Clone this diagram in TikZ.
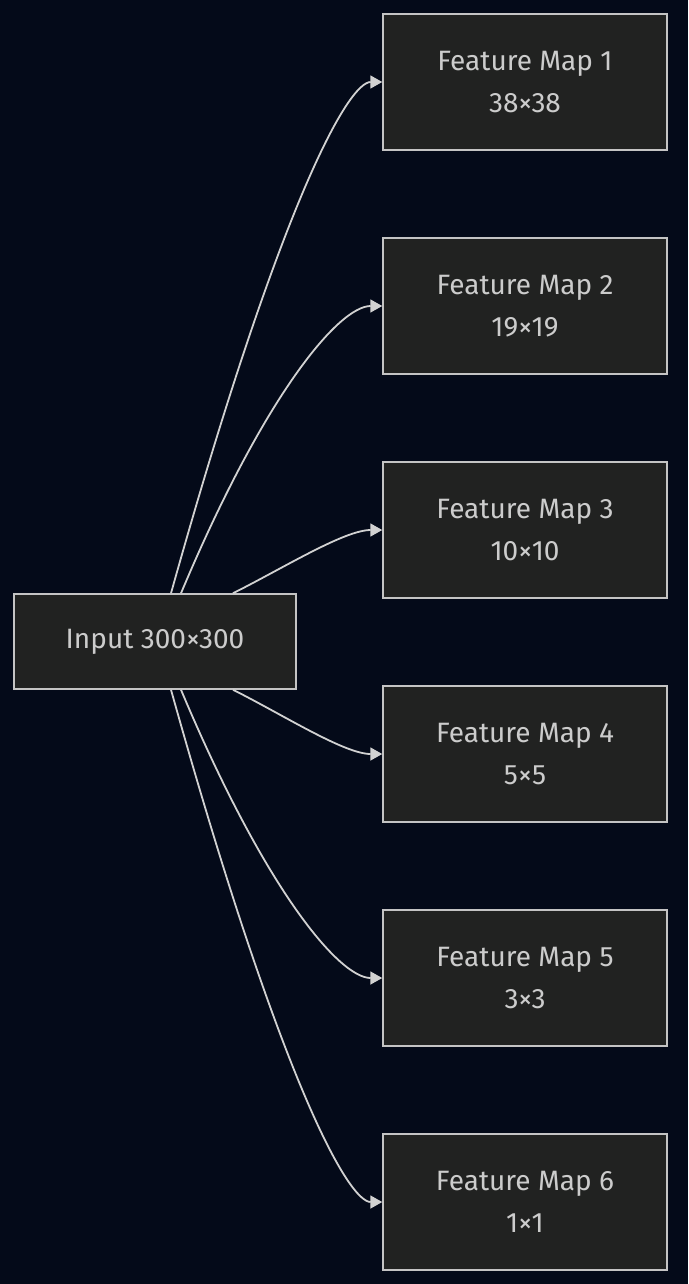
\documentclass[tikz,border=0pt]{standalone}
\usepackage{fontspec}
\setmainfont{Fira Sans}
\usetikzlibrary{arrows.meta}
\definecolor{bgc}{HTML}{040A19}
\definecolor{boxfill}{HTML}{212221}
\definecolor{boxline}{HTML}{C4C4C4}
\definecolor{txt}{HTML}{CCCCCC}
\definecolor{edgec}{HTML}{D2D2D2}
\begin{document}
\begin{tikzpicture}[x=1pt,y=-1pt,
  fmbox/.style={draw=boxline, fill=boxfill, line width=1.5pt, text=txt,
    minimum width=284pt, minimum height=136pt, align=center, inner sep=0pt,
    font=\fontsize{28}{42}\selectfont},
  inbox/.style={fmbox, minimum width=282pt, minimum height=95pt},
  edge/.style={draw=edgec, line width=1.8pt, -{Triangle[length=12pt,width=13pt]}}]
\fill[bgc] (0,0) rectangle (688,1284);
\useasboundingbox (0,0) rectangle (688,1284);
\node[inbox] (in) at (155,641.5) {\raisebox{-2pt}{Input 300×300}};
\node[fmbox] (f1) at (525,82) {Feature Map 1\\38×38};
\node[fmbox] (f2) at (525,306) {Feature Map 2\\19×19};
\node[fmbox] (f3) at (525,530) {Feature Map 3\\10×10};
\node[fmbox] (f4) at (525,754) {Feature Map 4\\5×5};
\node[fmbox] (f5) at (525,978) {Feature Map 5\\3×3};
\node[fmbox] (f6) at (525,1202) {Feature Map 6\\1×1};
\draw[edge] ([xshift=16pt]in.north) .. controls +(112,-400) and +(-33,0) .. (f1.west);
\draw[edge] ([xshift=26pt]in.north) .. controls +(84,-200) and +(-43,0) .. (f2.west);
\draw[edge] ([xshift=78pt]in.north) .. controls +(50,-25) and +(-38,0) .. (f3.west);
\draw[edge] ([xshift=78pt]in.south) .. controls +(50,25) and +(-38,0) .. (f4.west);
\draw[edge] ([xshift=26pt]in.south) .. controls +(84,200) and +(-43,0) .. (f5.west);
\draw[edge] ([xshift=16pt]in.south) .. controls +(112,400) and +(-33,0) .. (f6.west);
\end{tikzpicture}
\end{document}
